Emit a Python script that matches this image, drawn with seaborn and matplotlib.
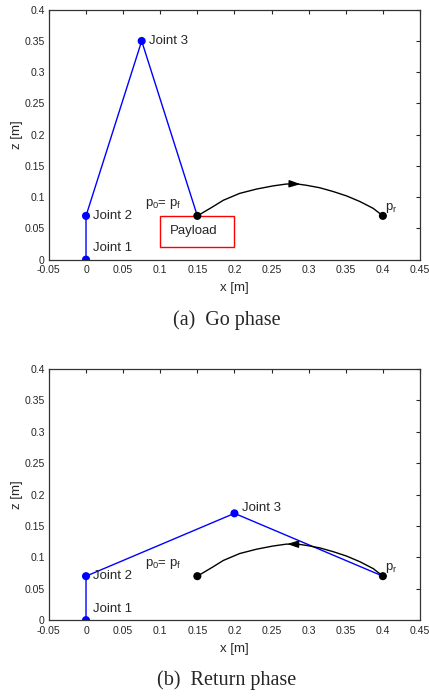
import matplotlib
matplotlib.use('Agg')
from matplotlib import pyplot as plt
from matplotlib.patches import Rectangle
from matplotlib.ticker import FuncFormatter
import seaborn as sns

# robot joint positions [m]
go_arm_x = [0.0, 0.0, 0.075, 0.15]
go_arm_z = [0.0, 0.07, 0.35, 0.07]
ret_arm_x = [0.0, 0.0, 0.2, 0.4]
ret_arm_z = [0.0, 0.07, 0.17, 0.07]
joint_names = ['Joint 1', 'Joint 2', 'Joint 3']

# end-effector path p0/pf -> pr
path_x = [0.150, 0.170, 0.185, 0.207, 0.230, 0.252, 0.270, 0.285, 0.297,
          0.315, 0.333, 0.351, 0.369, 0.387, 0.400]
path_z = [0.070, 0.084, 0.095, 0.106, 0.113, 0.118, 0.121, 0.121, 0.119,
          0.115, 0.109, 0.102, 0.093, 0.082, 0.070]
p0 = (0.15, 0.07)
pr = (0.4, 0.07)

payload_x = [0.1, 0.2]
payload_z = [0.02, 0.07]

xticks = [-0.05, 0, 0.05, 0.1, 0.15, 0.2, 0.25, 0.3, 0.35, 0.4, 0.45]
zticks = [0, 0.05, 0.1, 0.15, 0.2, 0.25, 0.3, 0.35, 0.4]

sns.set_theme(style='white', rc={
    'axes.edgecolor': '#333333',
    'axes.linewidth': 0.9,
    'xtick.direction': 'in',
    'ytick.direction': 'in',
    'xtick.top': True,
    'ytick.right': True,
    'xtick.major.size': 3,
    'ytick.major.size': 3,
    'xtick.major.width': 0.8,
    'ytick.major.width': 0.8,
    'xtick.color': '#262626',
    'ytick.color': '#262626',
    'xtick.labelsize': 7.6,
    'ytick.labelsize': 7.6,
    'mathtext.default': 'regular',
})
plt.rcParams['font.family'] = ['Liberation Sans', 'DejaVu Sans']

fig = plt.figure(figsize=(4.29, 6.96), dpi=100)
ax_go = fig.add_axes([0.114, 0.627, 0.865, 0.359])
ax_ret = fig.add_axes([0.114, 0.109, 0.865, 0.361])

fmt = FuncFormatter(lambda v, p: '%g' % round(v, 3))


def draw(ax, arm_x, arm_z, arrow_right, joint3_xy):
    sns.lineplot(x=arm_x, y=arm_z, ax=ax, sort=False, color='#0000ff',
                 linewidth=1.0, estimator=None)
    sns.scatterplot(x=arm_x[:3], y=arm_z[:3], ax=ax, color='#0000ff',
                    s=34, edgecolor='none', zorder=4)
    sns.lineplot(x=path_x, y=path_z, ax=ax, sort=False, color='black',
                 linewidth=1.0, estimator=None)
    sns.scatterplot(x=[p0[0], pr[0]], y=[p0[1], pr[1]], ax=ax, color='black',
                    s=34, edgecolor='none', zorder=5)
    if arrow_right:
        tip, tail = (0.289, 0.1208), (0.279, 0.1212)
    else:
        tip, tail = (0.271, 0.1212), (0.281, 0.1210)
    ax.annotate('', xy=tip, xytext=tail,
                arrowprops=dict(arrowstyle='-|>,head_length=0.55,head_width=0.18',
                                color='black', lw=1.0, shrinkA=0, shrinkB=0))

    ax.text(0.01, 0.07, joint_names[1], fontsize=9.5, va='center')
    ax.text(0.01, 0.018, joint_names[0], fontsize=9.5, va='center')
    ax.text(joint3_xy[0], joint3_xy[1], joint_names[2], fontsize=9.5, va='center')
    ax.text(0.08, 0.089, 'p$_0$= p$_f$', fontsize=9.5, va='center')
    ax.text(0.403, 0.083, 'p$_r$', fontsize=9.5, va='center')

    ax.set_xlim(-0.05, 0.45)
    ax.set_ylim(0, 0.4)
    ax.set_xticks(xticks)
    ax.set_yticks(zticks)
    ax.xaxis.set_major_formatter(fmt)
    ax.yaxis.set_major_formatter(fmt)
    ax.tick_params(axis='x', pad=4)
    ax.tick_params(axis='y', pad=3)
    ax.set_xlabel('x [m]', fontsize=9.5, color='#262626', labelpad=5)
    ax.set_ylabel('z [m]', fontsize=9.5, color='#262626', labelpad=1)


draw(ax_go, go_arm_x, go_arm_z, True, (0.085, 0.35))
ax_go.add_patch(Rectangle((payload_x[0], payload_z[0]),
                          payload_x[1] - payload_x[0], payload_z[1] - payload_z[0],
                          fill=False, edgecolor='#ff0000', linewidth=1.0, zorder=3))
ax_go.text(0.113, 0.046, 'Payload', fontsize=9.5, va='center')

draw(ax_ret, ret_arm_x, ret_arm_z, False, (0.21, 0.178))

fig.text(0.529, 1 - 320 / 696, '(a)  Go phase', family=['Liberation Serif'],
         fontsize=14.5, ha='center', va='center')
fig.text(0.529, 1 - 680 / 696, '(b)  Return phase', family=['Liberation Serif'],
         fontsize=14.5, ha='center', va='center')

fig.savefig('out.png', dpi=100)
